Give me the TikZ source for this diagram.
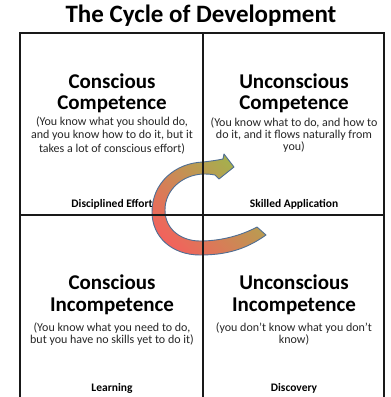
\documentclass[tikz,border=0pt]{standalone}
\usepackage{fontspec}
\setmainfont{Carlito}
\definecolor{arrowred}{HTML}{F0645C}
\definecolor{arroworange}{HTML}{D98C55}
\definecolor{arrowgreen}{HTML}{9FB64C}
\definecolor{arrowedge}{HTML}{4F6E93}
\begin{document}
\begin{tikzpicture}[x=1pt,y=-1pt,
  grid/.style={line width=1.4pt, black!90},
  titletext/.style={font=\bfseries\fontsize{25}{27}\selectfont, anchor=base, inner sep=0pt},
  headtext/.style={font=\bfseries\fontsize{21}{23}\selectfont, anchor=base, inner sep=0pt},
  desctext/.style={font=\fontsize{12}{14}\selectfont, anchor=base, inner sep=0pt, text=black!85},
  tagtext/.style={font=\bfseries\fontsize{11.5}{13}\selectfont, anchor=base, inner sep=0pt}]
\useasboundingbox (0,0) rectangle (391,397);
\fill[white] (0,0) rectangle (391,397);

% curved cycle arrow
\shade[draw=arrowedge, line width=0.9pt, line join=round,
       top color=arrowgreen, middle color=arroworange, bottom color=arrowred,
       shading angle=-45]
  (266,235) .. controls (245,250) and (225,255) .. (200,255)
  .. controls (172,255) and (152,237) .. (152,212)
  .. controls (152,183) and (175,163) .. (203,162)
  .. controls (212,161) and (218,160) .. (223,159)
  -- (224,154) -- (234,167) -- (219,179) -- (215,175)
  .. controls (210,174) and (206,174) .. (203,174)
  .. controls (182,175) and (165,190) .. (165,210)
  .. controls (165,230) and (182,241) .. (200,241)
  .. controls (222,241) and (242,235) .. (257,227)
  -- cycle;

% quadrant grid
\draw[grid] (20,397) -- (20,33) -- (384,33) -- (384,397);
\draw[grid] (203,33) -- (203,397);
\draw[grid] (20,215) -- (384,215);

% title
\node[titletext] (title) at (201,22) {The Cycle of Development};

% top left quadrant
\node[headtext] (ccA) at (112,88) {Conscious};
\node[headtext] (ccB) at (112,109) {Competence};
\node[desctext] (ccC) at (112,125) {(You know what you should do,};
\node[desctext] (ccD) at (112,138.5) {and you know how to do it, but it};
\node[desctext] (ccE) at (112,152) {takes a lot of conscious effort)};
\node[tagtext] (ccT) at (112,207) {Disciplined Effort};

% top right quadrant
\node[headtext] (ucA) at (294,88) {Unconscious};
\node[headtext] (ucB) at (294,109) {Competence};
\node[desctext] (ucC) at (294,126) {(You know what to do, and how to};
\node[desctext] (ucD) at (294,138) {do it, and it flows naturally from};
\node[desctext] (ucE) at (294,150) {you)};
\node[tagtext] (ucT) at (294,207) {Skilled Application};

% bottom left quadrant
\node[headtext] (ciA) at (112,289) {Conscious};
\node[headtext] (ciB) at (112,311) {Incompetence};
\node[desctext] (ciC) at (112,331) {(You know what you need to do,};
\node[desctext] (ciD) at (112,343) {but you have no skills yet to do it)};
\node[tagtext] (ciT) at (112,391) {Learning};

% bottom right quadrant
\node[headtext] (uiA) at (294,289) {Unconscious};
\node[headtext] (uiB) at (294,311) {Incompetence};
\node[desctext] (uiC) at (294,331) {(you don’t know what you don’t};
\node[desctext] (uiD) at (294,343) {know)};
\node[tagtext] (uiT) at (294,391) {Discovery};
\end{tikzpicture}
\end{document}
